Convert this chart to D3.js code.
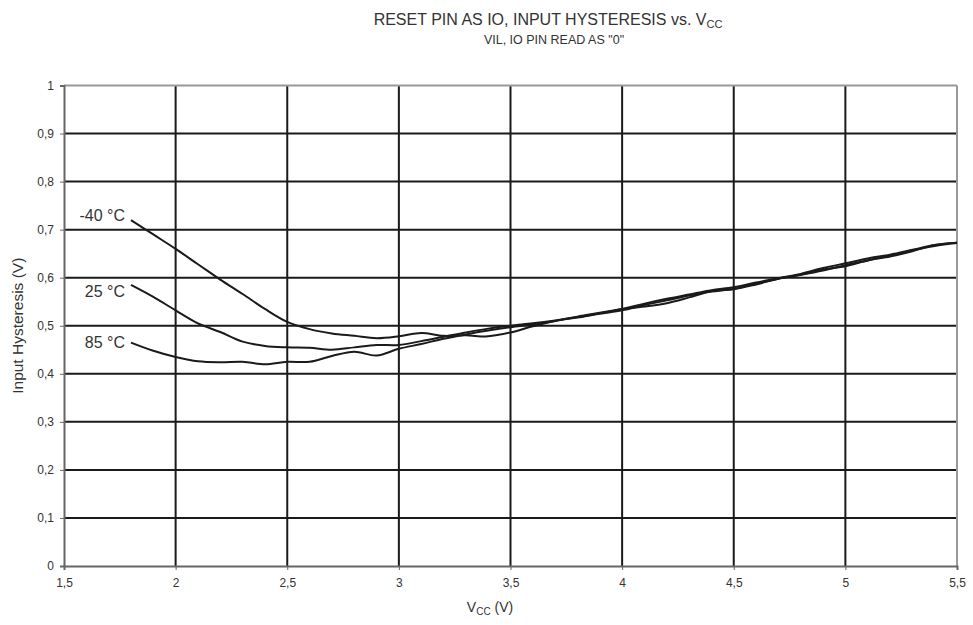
<!DOCTYPE html>
<html><head><meta charset="utf-8">
<script src="https://cdn.jsdelivr.net/npm/d3@7"></script>
<style>body{margin:0;background:#fff}svg{display:block;font-family:"Liberation Sans",Arial,sans-serif}</style>
</head><body><svg id="c" width="973" height="625"></svg>
<script>
const vcc = [1.8,1.9,2.0,2.1,2.2,2.3,2.4,2.5,2.6,2.7,2.8,2.9,3.0,3.1,3.2,3.3,3.4,3.5,3.6,3.7,3.8,3.9,4.0,4.1,4.2,4.3,4.4,4.5,4.6,4.7,4.8,4.9,5.0,5.1,5.2,5.3,5.4,5.5];
const hystM40 = [0.72,0.69,0.66,0.628,0.596,0.566,0.535,0.508,0.493,0.484,0.479,0.474,0.478,0.485,0.479,0.48,0.478,0.486,0.499,0.51,0.517,0.525,0.532,0.543,0.553,0.563,0.571,0.577,0.588,0.598,0.606,0.615,0.626,0.636,0.646,0.657,0.666,0.672];
const hyst25  = [0.585,0.56,0.532,0.505,0.487,0.467,0.458,0.455,0.454,0.45,0.455,0.46,0.46,0.468,0.477,0.486,0.494,0.5,0.505,0.511,0.518,0.526,0.535,0.546,0.556,0.565,0.574,0.58,0.59,0.599,0.608,0.62,0.63,0.64,0.648,0.658,0.668,0.673];
const hyst85  = [0.465,0.448,0.435,0.426,0.424,0.425,0.42,0.425,0.425,0.437,0.446,0.438,0.452,0.462,0.473,0.482,0.49,0.497,0.503,0.51,0.519,0.527,0.535,0.54,0.547,0.559,0.572,0.576,0.586,0.598,0.606,0.617,0.624,0.636,0.644,0.655,0.668,0.673];
const seriesNames = ["-40 °C","25 °C","85 °C"];
const xTicks = [1.5,2,2.5,3,3.5,4,4.5,5,5.5];
const yTicks = [0,0.1,0.2,0.3,0.4,0.5,0.6,0.7,0.8,0.9,1];
const labelDy = [1, 12, 5];

const svg = d3.select("#c");
const x = d3.scaleLinear().domain([1.5,5.5]).range([64,957]);
const y = d3.scaleLinear().domain([0,1]).range([566,85.5]);
const fmt = v => d3.format("")(v).replace(".", ",");

// grid
svg.append("g").selectAll("line").data(yTicks.filter(d=>d>0&&d<1)).join("line")
  .attr("x1",x(1.5)).attr("x2",x(5.5)).attr("y1",d=>y(d)).attr("y2",d=>y(d))
  .attr("stroke","#1a1a1a").attr("stroke-width",2);
svg.append("g").selectAll("line").data(xTicks.filter(d=>d>1.5&&d<5.5)).join("line")
  .attr("y1",y(0)).attr("y2",y(1)).attr("x1",d=>x(d)).attr("x2",d=>x(d))
  .attr("stroke","#1a1a1a").attr("stroke-width",2);
// frame top/right gray
svg.append("line").attr("x1",x(1.5)).attr("x2",x(5.5)).attr("y1",y(1)).attr("y2",y(1)).attr("stroke","#999").attr("stroke-width",2);
svg.append("line").attr("x1",x(5.5)).attr("x2",x(5.5)).attr("y1",y(0)).attr("y2",y(1)).attr("stroke","#999").attr("stroke-width",2);

// axes
const ax = svg.append("g").attr("transform",`translate(0,${y(0)})`)
  .call(d3.axisBottom(x).tickValues(xTicks).tickFormat(fmt).tickSize(4).tickPadding(8));
const ay = svg.append("g").attr("transform",`translate(${x(1.5)},0)`)
  .call(d3.axisLeft(y).tickValues(yTicks).tickFormat(fmt).tickSize(4).tickPadding(6));
[ax,ay].forEach(a=>{
  a.select(".domain").attr("stroke","#666").attr("stroke-width",2);
  a.selectAll(".tick line").attr("stroke","#666");
  a.selectAll(".tick text").attr("fill","#333").style("font-size","12px").style("font-family","Liberation Sans, Arial, sans-serif");
});

// lines
const line = d3.line().x((d,i)=>x(vcc[i])).y(d=>y(d)).curve(d3.curveCatmullRom.alpha(0.5));
[hystM40,hyst25,hyst85].forEach(s=>{
  svg.append("path").attr("d",line(s)).attr("fill","none").attr("stroke","#1a1a1a").attr("stroke-width",2);
});
// labels
[hystM40,hyst25,hyst85].forEach((s,i)=>{
  svg.append("text").attr("x",x(vcc[0])-6).attr("y",y(s[0])+labelDy[i]).attr("text-anchor","end")
    .attr("fill","#333").style("font-size","16px").text(seriesNames[i]);
});

// titles
const t = svg.append("text").attr("x",548).attr("y",25).attr("text-anchor","middle").attr("fill","#333").style("font-size","16px");
t.append("tspan").text("RESET PIN AS IO, INPUT HYSTERESIS vs. V");
t.append("tspan").attr("dy",3).style("font-size","11px").text("CC");
svg.append("text").attr("x",554).attr("y",44).attr("text-anchor","middle").attr("fill","#333").style("font-size","12.5px").text('VIL, IO PIN READ AS "0"');
const xt = svg.append("text").attr("x",490).attr("y",612).attr("text-anchor","middle").attr("fill","#333").style("font-size","14px");
xt.append("tspan").text("V");
xt.append("tspan").attr("dy",3).style("font-size","10px").text("CC");
xt.append("tspan").attr("dy",-3).text(" (V)");
svg.append("text").attr("transform",`translate(23,${(y(0)+y(1))/2}) rotate(-90)`).attr("text-anchor","middle")
  .attr("fill","#333").style("font-size","15.5px").text("Input Hysteresis (V)");
</script></body></html>
